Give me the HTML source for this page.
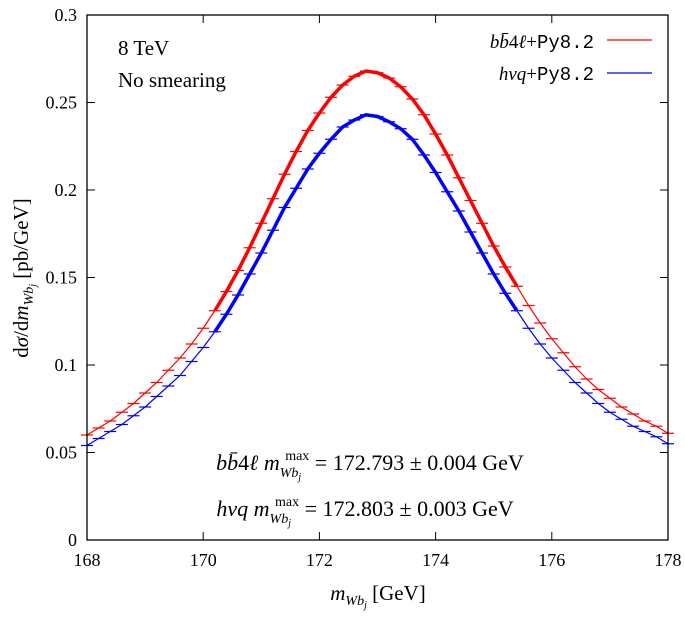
<!DOCTYPE html>
<html><head><meta charset="utf-8"><style>
body{margin:0;background:#fff}
svg text{font-family:"Liberation Serif",serif;fill:#000}
.mono{font-family:"Liberation Mono",monospace}
</style></head><body>
<svg id="chart" width="685" height="612" xmlns="http://www.w3.org/2000/svg">
<g id="axes"></g>
<g id="series"></g>
<rect x="87" y="15" width="581" height="525" fill="none" stroke="#000" stroke-width="1.3"/>
<text x="118" y="55" font-size="21">8 TeV</text>
<text x="118" y="87" font-size="21">No smearing</text>
<g>
<text x="594" y="48" font-size="19" text-anchor="end"><tspan font-style="italic">bb̄</tspan>4<tspan font-style="italic">ℓ</tspan>+<tspan class="mono">Py8.2</tspan></text>
<line x1="607" y1="40" x2="652" y2="40" stroke="#f00" stroke-width="1.3"/>
<text x="594" y="80" font-size="19" text-anchor="end"><tspan font-style="italic">hvq</tspan>+<tspan class="mono">Py8.2</tspan></text>
<line x1="607" y1="73" x2="652" y2="73" stroke="#00f" stroke-width="1.3"/>
</g>
<text x="370" y="470" font-size="22" text-anchor="middle"><tspan font-style="italic">bb̄</tspan>4<tspan font-style="italic">ℓ m</tspan><tspan font-size="14" dy="7" font-style="italic">Wb</tspan><tspan font-size="10" dy="3" font-style="italic">j</tspan><tspan font-size="14" dy="-20" dx="-16">max</tspan><tspan dy="10"> = 172.793 ± 0.004 GeV</tspan></text>
<text x="365" y="516" font-size="22" text-anchor="middle"><tspan font-style="italic">hvq m</tspan><tspan font-size="14" dy="7" font-style="italic">Wb</tspan><tspan font-size="10" dy="3" font-style="italic">j</tspan><tspan font-size="14" dy="-20" dx="-16">max</tspan><tspan dy="10"> = 172.803 ± 0.003 GeV</tspan></text>
<text x="378" y="600" font-size="21" text-anchor="middle"><tspan font-style="italic">m</tspan><tspan font-size="14" dy="5" font-style="italic">Wb</tspan><tspan font-size="10" dy="3" font-style="italic">j</tspan><tspan dy="-8"> [GeV]</tspan></text>
<text transform="translate(28,278) rotate(-90)" font-size="21" text-anchor="middle">d<tspan font-style="italic">σ</tspan>/d<tspan font-style="italic">m</tspan><tspan font-size="14" dy="5" font-style="italic">Wb</tspan><tspan font-size="10" dy="3" font-style="italic">j</tspan><tspan dy="-8"> [pb/GeV]</tspan></text>
</svg>
<script>
const xStart = 168, xStep = 0.2;
const redValues = [0.060,0.064,0.068,0.073,0.078,0.084,0.090,0.097,0.104,0.112,0.121,0.131,0.142,0.154,0.167,0.181,0.195,0.209,0.222,0.234,0.244,0.253,0.260,0.265,0.268,
0.267,0.264,0.259,0.252,0.243,0.232,0.220,0.207,0.194,0.181,0.168,0.156,0.145,0.134,0.124,0.115,0.107,0.099,0.092,0.086,0.081,0.076,0.072,0.068,0.065,0.061];
const blueValues = [0.054,0.058,0.062,0.066,0.071,0.076,0.082,0.088,0.094,0.102,0.110,0.119,0.129,0.140,0.152,0.164,0.177,0.190,0.201,0.212,0.221,0.229,0.236,0.240,0.243,
0.242,0.239,0.235,0.229,0.220,0.210,0.199,0.188,0.176,0.164,0.152,0.141,0.131,0.121,0.112,0.104,0.097,0.090,0.084,0.078,0.073,0.069,0.065,0.062,0.059,0.055];
const xTicks = [168,170,172,174,176,178];
const yTicks = [0,0.05,0.1,0.15,0.2,0.25,0.3];
const yTickLabels = ["0","0.05","0.1","0.15","0.2","0.25","0.3"];
const thickRange = [170.2,175.5];
const NS="http://www.w3.org/2000/svg";
const X=v=>87+(v-168)/10*581, Y=v=>540-v/0.3*525;
const axes=document.getElementById('axes'), ser=document.getElementById('series');
function mk(t,a,p){const e=document.createElementNS(NS,t);for(const k in a)e.setAttribute(k,a[k]);p.appendChild(e);return e;}
xTicks.forEach(t=>{
 const l=mk('line',{x1:X(t),x2:X(t),y1:540,y2:532,stroke:'#000'},axes);
 
 
 const l2=mk('line',{x1:X(t),x2:X(t),y1:15,y2:23,stroke:'#000'},axes);
 
 
 const tx=mk('text',{x:X(t),y:566,'font-size':18,'text-anchor':'middle'},axes);tx.textContent=t;
 
 
});
yTicks.forEach((t,i)=>{
 const l=mk('line',{x1:87,x2:95,y1:Y(t),y2:Y(t),stroke:'#000'},axes);
 
 
 const l2=mk('line',{x1:668,x2:660,y1:Y(t),y2:Y(t),stroke:'#000'},axes);
 
 
 const tx=mk('text',{x:77,y:Y(t)+6,'font-size':18,'text-anchor':'end'},axes);tx.textContent=yTickLabels[i];
 
 
});
function draw(vals,color,name){
 const pts=vals.map((v,i)=>[xStart+i*xStep,v]);
 const pl=mk('polyline',{points:pts.map(p=>X(p[0])+','+Y(p[1])).join(' '),fill:'none',stroke:color,'stroke-width':1.2},ser);
 
 
 const th=pts.filter(p=>p[0]>=thickRange[0]-1e-6&&p[0]<=thickRange[1]+1e-6);
 const pt=mk('polyline',{points:th.map(p=>X(p[0])+','+Y(p[1])).join(' '),fill:'none',stroke:color,'stroke-width':3.5},ser);
 
 
 pts.forEach(p=>{
  const e=mk('line',{x1:X(p[0])-6,x2:X(p[0])+6,y1:Y(p[1]),y2:Y(p[1]),stroke:color,'stroke-width':1.2},ser);
  
  
 });
}
draw(redValues,'#f00','bb4l');
draw(blueValues,'#00f','hvq');
</script>
</body></html>
